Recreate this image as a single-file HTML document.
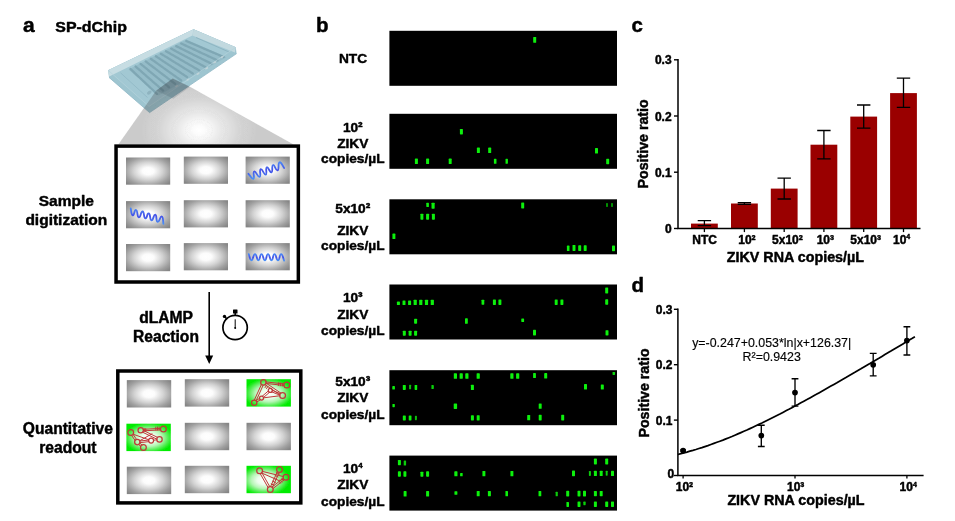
<!DOCTYPE html>
<html><head><meta charset="utf-8"><title>Figure</title>
<style>
html,body{margin:0;padding:0;background:#fff;}
body{width:955px;height:521px;overflow:hidden;font-family:"Liberation Sans",sans-serif;}
svg{display:block;position:absolute;left:0;top:0;filter:blur(0.35px);}
text{font-family:"Liberation Sans",sans-serif;fill:#000;}
.b{font-weight:bold;stroke:#000;stroke-width:0.45px;stroke-linejoin:round;}
.m{text-anchor:middle;}
.e{text-anchor:end;}
</style></head><body>
<svg width="955" height="521" viewBox="0 0 955 521">
<defs>
<radialGradient id="gcell" cx="50%" cy="50%" r="50%" gradientTransform="translate(0.5 0.5) scale(1.3 1.3) translate(-0.5 -0.5)">
<stop offset="0" stop-color="#ffffff"/><stop offset="0.2" stop-color="#fcfcfc"/><stop offset="0.5" stop-color="#d3d3d3"/><stop offset="0.8" stop-color="#a0a0a0"/><stop offset="1" stop-color="#868686"/>
</radialGradient>
<radialGradient id="ggreen" cx="50%" cy="52%" r="50%" gradientTransform="translate(0.5 0.5) scale(1.12 1.12) translate(-0.5 -0.5)">
<stop offset="0" stop-color="#ffffff"/><stop offset="0.3" stop-color="#ecfdec"/><stop offset="0.55" stop-color="#b4f6b4"/><stop offset="0.78" stop-color="#56ee56"/><stop offset="0.97" stop-color="#0aec0a"/><stop offset="1" stop-color="#04ec04"/>
</radialGradient>
<radialGradient id="ggreen2" cx="42%" cy="52%" r="50%" gradientTransform="translate(0.5 0.5) scale(1.12 1.12) translate(-0.5 -0.5)">
<stop offset="0" stop-color="#ffffff"/><stop offset="0.3" stop-color="#ecfdec"/><stop offset="0.55" stop-color="#b4f6b4"/><stop offset="0.78" stop-color="#56ee56"/><stop offset="0.97" stop-color="#0aec0a"/><stop offset="1" stop-color="#04ec04"/>
</radialGradient>
<radialGradient id="gcone" gradientUnits="userSpaceOnUse" cx="199" cy="130" r="44" gradientTransform="translate(199 130) scale(1.3 1) translate(-199 -130)">
<stop offset="0" stop-color="#3a3a3a" stop-opacity="0"/><stop offset="0.1" stop-color="#3a3a3a" stop-opacity="0.012"/><stop offset="0.4" stop-color="#3a3a3a" stop-opacity="0.12"/><stop offset="0.72" stop-color="#3a3a3a" stop-opacity="0.215"/><stop offset="1" stop-color="#3a3a3a" stop-opacity="0.265"/>
</radialGradient>
<linearGradient id="gblue" gradientUnits="objectBoundingBox" x1="0" y1="0" x2="0" y2="1">
<stop offset="0" stop-color="#4a86f6"/><stop offset="0.5" stop-color="#4450e6"/><stop offset="1" stop-color="#4a90f6"/>
</linearGradient>
<filter id="soft" x="-5%" y="-5%" width="110%" height="110%"><feGaussianBlur stdDeviation="0.45"/></filter>
<filter id="soft3" x="-5%" y="-5%" width="110%" height="110%"><feGaussianBlur stdDeviation="0.35"/></filter>
<filter id="soft2" x="-2%" y="-10%" width="104%" height="120%"><feGaussianBlur stdDeviation="0.6"/></filter>
</defs>
<rect x="0" y="0" width="955" height="521" fill="#ffffff"/>

<g id="panel-a">
<text class="b" x="23" y="32" font-size="21">a</text>
<text class="b" x="55.3" y="31.7" font-size="15.3" textLength="71.6" lengthAdjust="spacingAndGlyphs">SP-dChip</text>
<g id="chip" filter="url(#soft)">
<polygon points="108.1,70.2 193.6,29.2 235.8,47.3 236.6,53.6 149.6,112.6 109.0,77.4" fill="#9ec5d0"/>
<polygon points="108.1,70.2 193.6,29.2 235.8,47.3 149.0,106.4" fill="#a2c8d3"/>
<polygon points="108.1,70.2 193.6,29.2 192.4,35.4 109.2,76.4" fill="#c7dde3"/>
<polygon points="193.6,29.2 235.8,47.3 234.9,52.4 192.4,35.4" fill="#c2d9df"/>
<polyline points="120.5,72.8 147.5,97.5" fill="none" stroke="#8ab2bf" stroke-width="0.6"/>
<polyline points="196,37.5 229,52" fill="none" stroke="#7fa8b5" stroke-width="0.6"/>
<polygon points="128.5,69.5 186.5,39.5 226.5,57.2 158.5,95.5" fill="#95bcc8"/>
<line x1="130.5" y1="69.0" x2="157.0" y2="94.0" stroke="#7fa7b4" stroke-width="2.3" stroke-linecap="round" stroke-dasharray="2.4 0.8"/>
<line x1="135.6" y1="66.5" x2="163.1" y2="90.6" stroke="#7fa7b4" stroke-width="2.3" stroke-linecap="round" stroke-dasharray="2.4 0.8"/>
<line x1="140.6" y1="63.9" x2="169.1" y2="87.3" stroke="#7fa7b4" stroke-width="2.3" stroke-linecap="round" stroke-dasharray="2.4 0.8"/>
<line x1="145.7" y1="61.4" x2="175.2" y2="83.9" stroke="#7fa7b4" stroke-width="2.3" stroke-linecap="round" stroke-dasharray="2.4 0.8"/>
<line x1="150.8" y1="58.8" x2="181.2" y2="80.5" stroke="#7fa7b4" stroke-width="2.3" stroke-linecap="round" stroke-dasharray="2.4 0.8"/>
<line x1="155.9" y1="56.3" x2="187.3" y2="77.2" stroke="#7fa7b4" stroke-width="2.3" stroke-linecap="round" stroke-dasharray="2.4 0.8"/>
<line x1="160.9" y1="53.7" x2="193.3" y2="73.8" stroke="#7fa7b4" stroke-width="2.3" stroke-linecap="round" stroke-dasharray="2.4 0.8"/>
<line x1="166.0" y1="51.2" x2="199.4" y2="70.5" stroke="#7fa7b4" stroke-width="2.3" stroke-linecap="round" stroke-dasharray="2.4 0.8"/>
<line x1="171.1" y1="48.6" x2="205.4" y2="67.1" stroke="#7fa7b4" stroke-width="2.3" stroke-linecap="round" stroke-dasharray="2.4 0.8"/>
<line x1="176.2" y1="46.1" x2="211.5" y2="63.7" stroke="#7fa7b4" stroke-width="2.3" stroke-linecap="round" stroke-dasharray="2.4 0.8"/>
<line x1="181.2" y1="43.5" x2="217.5" y2="60.4" stroke="#7fa7b4" stroke-width="2.3" stroke-linecap="round" stroke-dasharray="2.4 0.8"/>
<line x1="186.3" y1="41.0" x2="223.6" y2="57.0" stroke="#7fa7b4" stroke-width="2.3" stroke-linecap="round" stroke-dasharray="2.4 0.8"/>
<ellipse cx="176.7" cy="86.2" rx="1.7" ry="0.9" transform="rotate(-32 176.7 86.2)" fill="#c3d3d7"/>
<ellipse cx="187.9" cy="79.7" rx="1.7" ry="0.9" transform="rotate(-32 187.9 79.7)" fill="#c3d3d7"/>
<ellipse cx="198" cy="73.7" rx="1.7" ry="0.9" transform="rotate(-32 198 73.7)" fill="#c3d3d7"/>
<ellipse cx="206.7" cy="68.3" rx="1.7" ry="0.9" transform="rotate(-32 206.7 68.3)" fill="#c3d3d7"/>
<ellipse cx="214.8" cy="62.3" rx="1.7" ry="0.9" transform="rotate(-32 214.8 62.3)" fill="#c3d3d7"/>
<ellipse cx="222.2" cy="56.9" rx="1.7" ry="0.9" transform="rotate(-32 222.2 56.9)" fill="#c3d3d7"/>
<polyline points="109.0,77.4 149.6,112.6 236.6,53.6" fill="none" stroke="#8fb8c5" stroke-width="0.8"/>
<polyline points="108.1,70.2 149.0,106.4 235.8,47.3" fill="none" stroke="#b4d2db" stroke-width="0.7"/>
<ellipse cx="149.3" cy="92.6" rx="2.6" ry="1.6" transform="rotate(-35 149.3 92.6)" fill="#8eb3bf"/>
</g>
<g filter="url(#soft)">
<polygon points="156.3,90.6 172.7,78.6 189.9,86.8 293.6,144.4 118.3,144.4" fill="url(#gcone)"/>
<polygon points="156.3,90.6 172.7,78.6 189.9,86.8 173.5,98.8" fill="#24404a" fill-opacity="0.16"/>
</g>
<rect x="116.05" y="146.1" width="182.3" height="135.9" fill="#fff" stroke="#000" stroke-width="3.5"/>
<g filter="url(#soft)">
<rect x="126.0" y="157.5" width="44.2" height="27.2" fill="url(#gcell)"/>
<rect x="183.8" y="156.6" width="44.2" height="27.2" fill="url(#gcell)"/>
<rect x="245.6" y="156.6" width="44.2" height="27.2" fill="url(#gcell)"/>
<rect x="126.0" y="201.1" width="44.2" height="27.2" fill="url(#gcell)"/>
<rect x="183.8" y="200.2" width="44.2" height="27.2" fill="url(#gcell)"/>
<rect x="245.6" y="200.2" width="44.2" height="27.2" fill="url(#gcell)"/>
<rect x="126.0" y="244.0" width="44.2" height="27.2" fill="url(#gcell)"/>
<rect x="183.8" y="243.1" width="44.2" height="27.2" fill="url(#gcell)"/>
<rect x="245.6" y="243.1" width="44.2" height="27.2" fill="url(#gcell)"/>
</g>
<g id="rna" filter="url(#soft3)">
<path d="M248.40,173.80 C249.90,175.30 251.66,179.49 253.40,178.80 C255.14,178.11 252.34,172.07 254.20,171.50 C256.06,170.93 257.65,177.59 259.60,176.90 C261.55,176.21 258.87,169.89 260.70,169.20 C262.53,168.51 263.87,175.17 265.70,174.60 C267.53,174.03 265.06,167.99 266.80,167.30 C268.54,166.61 269.64,172.99 271.50,172.30 C273.36,171.61 271.17,165.60 273.00,165.00 C274.83,164.40 275.65,171.11 277.60,170.30 C279.55,169.49 277.55,162.99 279.50,162.30 C281.45,161.61 282.72,166.29 284.10,168.00" fill="none" stroke="url(#gblue)" stroke-width="1.8" stroke-linecap="round" stroke-linejoin="round"/>
<path d="M130.70,208.40 C131.30,210.47 131.08,214.82 132.70,215.30 C134.32,215.78 134.27,209.40 136.10,210.00 C137.93,210.60 136.85,216.85 138.80,217.30 C140.75,217.75 140.65,211.17 142.60,211.50 C144.55,211.83 143.44,217.83 145.30,218.40 C147.16,218.97 146.94,212.83 148.80,213.40 C150.66,213.97 149.55,219.94 151.50,220.30 C153.45,220.66 153.47,214.12 155.30,214.60 C157.13,215.08 155.65,221.33 157.60,221.90 C159.55,222.47 160.06,215.93 161.80,216.50 C163.54,217.07 162.92,221.61 163.40,223.80" fill="none" stroke="url(#gblue)" stroke-width="1.8" stroke-linecap="round" stroke-linejoin="round"/>
<path d="M248.80,254.10 C249.61,255.96 249.64,260.30 251.50,260.30 C253.36,260.30 252.93,254.10 255.00,254.10 C257.07,254.10 256.45,260.30 258.40,260.30 C260.35,260.30 259.55,254.10 261.50,254.10 C263.45,254.10 262.95,260.30 264.90,260.30 C266.85,260.30 266.02,254.10 268.00,254.10 C269.98,254.10 269.55,260.30 271.50,260.30 C273.45,260.30 272.55,254.10 274.50,254.10 C276.45,254.10 276.02,260.30 278.00,260.30 C279.98,260.30 279.27,254.01 281.10,254.10 C282.93,254.19 283.20,258.65 284.10,260.60" fill="none" stroke="url(#gblue)" stroke-width="1.8" stroke-linecap="round" stroke-linejoin="round"/>
</g>
<text class="b m" x="66.3" y="205.6" font-size="15.5">Sample</text>
<text class="b m" x="66.3" y="224.9" font-size="15.5">digitization</text>
<text class="b m" x="166" y="322.8" font-size="15.6">dLAMP</text>
<text class="b m" x="166" y="341.8" font-size="15.6">Reaction</text>
<text class="b m" x="67.9" y="433.8" font-size="15.6">Quantitative</text>
<text class="b m" x="67.9" y="452.9" font-size="15.6">readout</text>
<line x1="209.2" y1="291.9" x2="209.2" y2="357" stroke="#000" stroke-width="1.6"/>
<polygon points="205.2,355.6 213.2,355.6 209.2,364" fill="#000"/>
<g id="timer" fill="none" stroke="#000">
<circle cx="235.1" cy="327.5" r="12.2" stroke-width="1.7"/>
<line x1="235.2" y1="311.5" x2="235.2" y2="316" stroke-width="1.5"/>
<rect x="233.0" y="309.6" width="4.5" height="3.9" rx="0.5" fill="#000" stroke="none"/>
<line x1="224.6" y1="316.6" x2="227.2" y2="319.2" stroke-width="1.6"/>
<circle cx="224.5" cy="316.4" r="1.7" fill="#000" stroke="none"/>
<line x1="235.2" y1="328" x2="235.2" y2="319.3" stroke-width="1.0"/>
<circle cx="235.2" cy="328" r="1.0" fill="#000" stroke="none"/>
</g>
<rect x="117.8" y="371.0" width="183.0" height="131.9" fill="#fff" stroke="#000" stroke-width="3.5"/>
<g filter="url(#soft)">
<rect x="126.8" y="380.1" width="44.4" height="27.4" fill="url(#gcell)"/>
<rect x="184.8" y="379.2" width="44.4" height="27.4" fill="url(#gcell)"/>
<rect x="246.5" y="379.2" width="44.4" height="27.4" fill="url(#ggreen)"/>
<rect x="126.4" y="423.7" width="44.4" height="27.4" fill="url(#ggreen)"/>
<rect x="184.8" y="422.8" width="44.4" height="27.4" fill="url(#gcell)"/>
<rect x="246.5" y="422.8" width="44.4" height="27.4" fill="url(#gcell)"/>
<rect x="126.8" y="466.7" width="44.4" height="27.4" fill="url(#gcell)"/>
<rect x="184.8" y="465.8" width="44.4" height="27.4" fill="url(#gcell)"/>
<rect x="246.5" y="465.8" width="44.4" height="27.4" fill="url(#ggreen2)"/>
</g>
<g fill="none" stroke="#c0383a" stroke-width="1.0" stroke-linecap="round" filter="url(#soft3)">
<line x1="265.87" y1="383.43" x2="283.98" y2="385.44"/>
<line x1="266.03" y1="381.94" x2="284.14" y2="383.95"/>
<line x1="261.48" y1="384.34" x2="254.39" y2="399.97"/>
<line x1="263.21" y1="385.13" x2="256.12" y2="400.76"/>
<line x1="264.99" y1="384.62" x2="279.79" y2="394.64"/>
<line x1="266.06" y1="383.05" x2="280.85" y2="393.07"/>
<line x1="256.80" y1="402.01" x2="260.32" y2="399.79"/>
<line x1="255.94" y1="400.66" x2="259.47" y2="398.44"/>
<line x1="263.52" y1="397.53" x2="269.46" y2="392.33"/>
<line x1="262.34" y1="396.17" x2="268.28" y2="390.97"/>
<line x1="263.38" y1="397.86" x2="279.87" y2="395.75"/>
<line x1="271.76" y1="391.86" x2="279.75" y2="395.10"/>
<line x1="272.36" y1="390.37" x2="280.35" y2="393.62"/>
<line x1="278.33" y1="385.61" x2="278.67" y2="382.63"/>
<line x1="280.33" y1="385.84" x2="280.67" y2="382.86"/>
<line x1="282.33" y1="386.07" x2="282.67" y2="383.09"/>
<line x1="265.03" y1="387.58" x2="266.47" y2="385.42"/>
<line x1="266.53" y1="388.58" x2="267.97" y2="386.42"/>
<circle cx="263.4" cy="382.4" r="2.7" stroke-width="1.25"/>
<circle cx="286.8" cy="385" r="2.9" stroke-width="1.25"/>
<circle cx="282.6" cy="395.4" r="2.9" stroke-width="1.25"/>
<circle cx="254.2" cy="402.7" r="2.7" stroke-width="1.25"/>
<circle cx="261.5" cy="398.1" r="2.0" stroke-width="1.25"/>
<circle cx="270.3" cy="390.4" r="2.0" stroke-width="1.25"/>
</g>
<g fill="none" stroke="#c0383a" stroke-width="1.0" stroke-linecap="round" filter="url(#soft3)">
<line x1="143.30" y1="430.81" x2="160.69" y2="429.89"/>
<line x1="143.22" y1="429.32" x2="160.61" y2="428.40"/>
<line x1="131.52" y1="435.28" x2="135.11" y2="440.50"/>
<line x1="133.00" y1="434.26" x2="136.59" y2="439.48"/>
<line x1="138.62" y1="444.47" x2="140.74" y2="446.35"/>
<line x1="139.82" y1="443.13" x2="141.93" y2="445.00"/>
<line x1="142.59" y1="432.18" x2="156.78" y2="439.13"/>
<line x1="143.42" y1="430.47" x2="157.61" y2="437.42"/>
<line x1="139.94" y1="442.62" x2="148.83" y2="441.65"/>
<line x1="139.76" y1="441.03" x2="148.65" y2="440.06"/>
<line x1="153.45" y1="440.26" x2="156.96" y2="439.76"/>
<line x1="134.00" y1="434.50" x2="148.86" y2="439.80"/>
<line x1="139.53" y1="440.84" x2="152.00" y2="433.80"/>
<line x1="155.89" y1="430.07" x2="155.77" y2="427.07"/>
<line x1="157.56" y1="430.00" x2="157.44" y2="427.00"/>
<line x1="159.23" y1="429.93" x2="159.11" y2="426.93"/>
<line x1="144.25" y1="431.40" x2="144.25" y2="428.60"/>
<line x1="145.75" y1="431.40" x2="145.75" y2="428.60"/>
<circle cx="130.7" cy="432.5" r="2.9" stroke-width="1.25"/>
<circle cx="140.7" cy="430.2" r="2.7" stroke-width="1.25"/>
<circle cx="163.4" cy="429" r="2.9" stroke-width="1.25"/>
<circle cx="159.5" cy="439.4" r="2.7" stroke-width="1.25"/>
<circle cx="151.1" cy="440.6" r="2.5" stroke-width="1.25"/>
<circle cx="137.3" cy="442.1" r="2.7" stroke-width="1.25"/>
<circle cx="143.4" cy="447.5" r="2.9" stroke-width="1.25"/>
</g>
<g fill="none" stroke="#c0383a" stroke-width="1.0" stroke-linecap="round" filter="url(#soft3)">
<line x1="260.14" y1="473.56" x2="268.11" y2="487.58"/>
<line x1="261.79" y1="472.62" x2="269.76" y2="486.64"/>
<line x1="277.44" y1="471.58" x2="270.54" y2="486.58"/>
<line x1="279.26" y1="472.42" x2="272.36" y2="487.42"/>
<line x1="262.28" y1="471.36" x2="283.32" y2="476.54"/>
<line x1="261.68" y1="473.01" x2="280.00" y2="481.00"/>
<line x1="283.28" y1="478.19" x2="271.91" y2="487.09"/>
<line x1="284.39" y1="479.61" x2="273.02" y2="488.51"/>
<line x1="276.40" y1="472.73" x2="279.30" y2="474.07"/>
<line x1="275.10" y1="475.53" x2="278.00" y2="476.87"/>
<line x1="273.80" y1="478.33" x2="276.70" y2="479.67"/>
<line x1="272.50" y1="481.13" x2="275.40" y2="482.47"/>
<line x1="271.20" y1="483.93" x2="274.10" y2="485.27"/>
<line x1="281.88" y1="478.71" x2="283.62" y2="480.89"/>
<line x1="280.38" y1="479.91" x2="282.12" y2="482.09"/>
<line x1="278.88" y1="481.11" x2="280.62" y2="483.29"/>
<circle cx="259.6" cy="470.7" r="2.9" stroke-width="1.25"/>
<circle cx="279.5" cy="469.5" r="2.9" stroke-width="1.25"/>
<circle cx="286" cy="477.2" r="2.9" stroke-width="1.25"/>
<circle cx="270.3" cy="489.5" r="2.9" stroke-width="1.25"/>
</g>
</g>
<g id="panel-b">
<text class="b" x="316" y="32" font-size="20.5">b</text>
<rect x="389.4" y="30.8" width="227.6" height="55" fill="#000"/>
<rect x="389.4" y="113.8" width="227.6" height="55" fill="#000"/>
<rect x="389.4" y="199.3" width="227.6" height="55" fill="#000"/>
<rect x="389.4" y="284.5" width="227.6" height="55" fill="#000"/>
<rect x="389.4" y="370.2" width="227.6" height="55" fill="#000"/>
<rect x="389.4" y="455.6" width="227.6" height="55" fill="#000"/>
<text class="b m" x="353" y="63.3" font-size="13.7">NTC</text>
<text class="b m" x="352.8" y="132" font-size="13.7">10²</text>
<text class="b m" x="352.8" y="148" font-size="13.7">ZIKV</text>
<text class="b m" x="352.8" y="163.4" font-size="13.7">copies/µL</text>
<text class="b m" x="352.8" y="213" font-size="13.7">5x10²</text>
<text class="b m" x="352.8" y="235" font-size="13.7">ZIKV</text>
<text class="b m" x="352.8" y="250" font-size="13.7">copies/µL</text>
<text class="b m" x="352.8" y="302" font-size="13.7">10³</text>
<text class="b m" x="352.8" y="319" font-size="13.7">ZIKV</text>
<text class="b m" x="352.8" y="335" font-size="13.7">copies/µL</text>
<text class="b m" x="352.8" y="385.5" font-size="13.7">5x10³</text>
<text class="b m" x="352.8" y="402.2" font-size="13.7">ZIKV</text>
<text class="b m" x="352.8" y="418.6" font-size="13.7">copies/µL</text>
<text class="b m" x="352.8" y="472.8" font-size="13.7">10<tspan font-size="7.9" dy="-4.9">4</tspan></text>
<text class="b m" x="352.8" y="489.2" font-size="13.7">ZIKV</text>
<text class="b m" x="352.8" y="506" font-size="13.7">copies/µL</text>
<g fill="#0af00a" filter="url(#soft2)">
<rect x="533.20" y="37.00" width="3" height="5.8" rx="0.6"/>
<rect x="459.90" y="129.00" width="3.0" height="5.4" rx="0.6"/>
<rect x="476.90" y="147.60" width="3.0" height="5.4" rx="0.6"/>
<rect x="488.20" y="147.60" width="3.0" height="5.4" rx="0.6"/>
<rect x="595.00" y="148.10" width="3.0" height="5.4" rx="0.6"/>
<rect x="414.90" y="158.60" width="3.0" height="5.4" rx="0.6"/>
<rect x="426.10" y="158.60" width="3.0" height="5.4" rx="0.6"/>
<rect x="448.70" y="158.60" width="3.0" height="5.4" rx="0.6"/>
<rect x="493.90" y="158.80" width="2.6" height="5" rx="0.6"/>
<rect x="505.50" y="158.80" width="2.4" height="5" rx="0.6"/>
<rect x="606.20" y="158.80" width="3.0" height="5.4" rx="0.6"/>
<rect x="426.30" y="202.70" width="2.6" height="4.4" rx="0.6"/>
<rect x="431.50" y="202.70" width="3.2" height="6" rx="0.6"/>
<rect x="521.20" y="202.40" width="3" height="6" rx="0.6"/>
<rect x="606.00" y="202.90" width="2" height="4" rx="0.6" fill-opacity="0.6"/>
<rect x="611.00" y="202.90" width="2" height="4" rx="0.6" fill-opacity="0.6"/>
<rect x="420.40" y="213.70" width="3" height="6" rx="0.6"/>
<rect x="426.10" y="213.70" width="3" height="6" rx="0.6"/>
<rect x="431.90" y="213.70" width="3" height="6" rx="0.6"/>
<rect x="392.40" y="233.55" width="3" height="5.5" rx="0.6"/>
<rect x="566.90" y="245.60" width="2.6" height="5.4" rx="0.6"/>
<rect x="572.50" y="244.90" width="3" height="6" rx="0.6"/>
<rect x="578.20" y="245.30" width="3" height="5.6" rx="0.6"/>
<rect x="583.70" y="245.30" width="3" height="5.6" rx="0.6"/>
<rect x="612.00" y="245.60" width="3" height="5.6" rx="0.6"/>
<rect x="605.20" y="287.40" width="3" height="6" rx="0.6"/>
<rect x="396.90" y="301.60" width="3" height="3.4" rx="0.6"/>
<rect x="402.50" y="300.50" width="3" height="4.6" rx="0.6"/>
<rect x="408.10" y="300.50" width="3" height="4.6" rx="0.6"/>
<rect x="413.60" y="299.70" width="3.2" height="5.4" rx="0.6"/>
<rect x="419.20" y="299.70" width="3.2" height="5.4" rx="0.6"/>
<rect x="424.90" y="299.70" width="3.2" height="5.4" rx="0.6"/>
<rect x="430.70" y="299.70" width="3.2" height="5.4" rx="0.6"/>
<rect x="481.50" y="299.70" width="2.8" height="5" rx="0.6"/>
<rect x="492.90" y="299.50" width="3" height="5.4" rx="0.6"/>
<rect x="498.40" y="299.50" width="3" height="5.4" rx="0.6"/>
<rect x="554.70" y="299.50" width="3" height="5.4" rx="0.6"/>
<rect x="560.40" y="299.50" width="3" height="5.4" rx="0.6"/>
<rect x="605.20" y="299.30" width="3" height="5.4" rx="0.6"/>
<rect x="414.10" y="318.70" width="3" height="5" rx="0.6"/>
<rect x="465.00" y="318.20" width="2.8" height="5.6" rx="0.6"/>
<rect x="521.30" y="318.50" width="2.8" height="3.6" rx="0.6"/>
<rect x="402.80" y="330.70" width="3" height="5" rx="0.6"/>
<rect x="408.60" y="330.70" width="3" height="5" rx="0.6"/>
<rect x="414.10" y="330.70" width="3" height="5" rx="0.6"/>
<rect x="533.00" y="329.80" width="3" height="5.6" rx="0.6"/>
<rect x="605.50" y="330.20" width="3" height="5.2" rx="0.6"/>
<rect x="453.80" y="373.20" width="3.2" height="5.6" rx="0.6"/>
<rect x="459.60" y="373.20" width="3.2" height="5.6" rx="0.6"/>
<rect x="465.30" y="373.20" width="3.2" height="5.6" rx="0.6"/>
<rect x="476.60" y="373.20" width="3.2" height="5.6" rx="0.6"/>
<rect x="510.30" y="373.20" width="3.2" height="5.6" rx="0.6"/>
<rect x="516.10" y="373.20" width="3.2" height="5.6" rx="0.6"/>
<rect x="533.10" y="373.10" width="2.8" height="5" rx="0.6"/>
<rect x="544.20" y="373.10" width="3" height="5.4" rx="0.6"/>
<rect x="612.50" y="371.90" width="2.6" height="3" rx="0.6" fill-opacity="0.9"/>
<rect x="392.30" y="386.10" width="2.6" height="3.4" rx="0.6"/>
<rect x="402.80" y="384.90" width="3" height="5" rx="0.6"/>
<rect x="409.10" y="384.70" width="2" height="4.6" rx="0.6" fill-opacity="0.8"/>
<rect x="414.60" y="384.90" width="2.6" height="5" rx="0.6"/>
<rect x="431.40" y="385.00" width="2.4" height="4" rx="0.6" fill-opacity="0.85"/>
<rect x="470.90" y="384.70" width="3" height="5.4" rx="0.6"/>
<rect x="584.00" y="384.00" width="3" height="5.6" rx="0.6"/>
<rect x="600.80" y="384.40" width="3" height="5.2" rx="0.6"/>
<rect x="392.40" y="404.00" width="2.4" height="3.2" rx="0.6"/>
<rect x="453.70" y="403.50" width="3.4" height="5.4" rx="0.6"/>
<rect x="538.70" y="403.40" width="3" height="5.4" rx="0.6"/>
<rect x="402.80" y="415.40" width="3" height="5" rx="0.6"/>
<rect x="408.70" y="415.40" width="2.8" height="5" rx="0.6"/>
<rect x="414.90" y="415.80" width="2" height="4.4" rx="0.6" fill-opacity="0.8"/>
<rect x="470.90" y="415.20" width="3" height="5.2" rx="0.6"/>
<rect x="476.70" y="415.20" width="3" height="5.2" rx="0.6"/>
<rect x="527.20" y="414.90" width="3" height="5.4" rx="0.6"/>
<rect x="538.70" y="414.80" width="3" height="5.6" rx="0.6"/>
<rect x="561.20" y="414.80" width="3" height="5.6" rx="0.6"/>
<rect x="397.90" y="460.00" width="3" height="5.2" rx="0.6"/>
<rect x="403.70" y="460.50" width="2.4" height="5" rx="0.6" fill-opacity="0.85"/>
<rect x="593.90" y="458.60" width="3" height="5.8" rx="0.6"/>
<rect x="605.20" y="458.60" width="3" height="5.8" rx="0.6"/>
<rect x="397.90" y="471.30" width="3" height="5.4" rx="0.6"/>
<rect x="403.40" y="471.30" width="3" height="5.4" rx="0.6"/>
<rect x="420.40" y="471.70" width="3" height="5" rx="0.6"/>
<rect x="426.10" y="471.30" width="3" height="5.4" rx="0.6"/>
<rect x="454.30" y="471.30" width="3.2" height="5" rx="0.6"/>
<rect x="460.10" y="472.90" width="2.6" height="3.4" rx="0.6"/>
<rect x="482.40" y="470.90" width="3" height="5.4" rx="0.6"/>
<rect x="510.40" y="470.90" width="3" height="5.4" rx="0.6"/>
<rect x="572.00" y="470.60" width="3" height="5.6" rx="0.6"/>
<rect x="588.90" y="470.90" width="2" height="5" rx="0.6" fill-opacity="0.85"/>
<rect x="593.90" y="470.70" width="3" height="5.4" rx="0.6"/>
<rect x="599.70" y="470.70" width="3" height="5.4" rx="0.6"/>
<rect x="605.70" y="470.70" width="2" height="5" rx="0.6" fill-opacity="0.85"/>
<rect x="611.00" y="470.70" width="3" height="5.4" rx="0.6"/>
<rect x="403.60" y="491.10" width="3" height="5.4" rx="0.6"/>
<rect x="426.10" y="491.10" width="3" height="5.4" rx="0.6"/>
<rect x="454.40" y="491.20" width="3" height="3.6" rx="0.6"/>
<rect x="476.70" y="490.90" width="3" height="5.4" rx="0.6"/>
<rect x="487.90" y="490.90" width="3" height="5.4" rx="0.6"/>
<rect x="505.40" y="490.90" width="2.6" height="5.4" rx="0.6"/>
<rect x="538.50" y="490.90" width="2.8" height="5.4" rx="0.6"/>
<rect x="555.60" y="491.70" width="2.2" height="4.6" rx="0.6" fill-opacity="0.85"/>
<rect x="566.20" y="490.80" width="3" height="5.6" rx="0.6"/>
<rect x="577.50" y="490.80" width="3" height="5.6" rx="0.6"/>
<rect x="583.00" y="490.80" width="3" height="5.6" rx="0.6"/>
<rect x="593.90" y="491.00" width="3" height="5.2" rx="0.6"/>
<rect x="599.70" y="491.00" width="3" height="5.2" rx="0.6"/>
<rect x="566.40" y="501.90" width="2.6" height="5" rx="0.6"/>
<rect x="577.50" y="501.50" width="3" height="5.4" rx="0.6"/>
<rect x="583.30" y="501.60" width="2.4" height="3.6" rx="0.6" fill-opacity="0.85"/>
<rect x="593.90" y="501.50" width="3" height="5.4" rx="0.6"/>
<rect x="605.20" y="501.50" width="3" height="5.4" rx="0.6"/>
<rect x="611.00" y="501.50" width="3" height="5.4" rx="0.6"/>
</g>
</g>
<g id="panel-c">
<text class="b" x="631.6" y="32.2" font-size="20.5">c</text>
<rect x="691.0" y="223.6" width="26.8" height="4.9" fill="#9a0000"/>
<rect x="731.0" y="203.5" width="26.8" height="25.0" fill="#9a0000"/>
<rect x="770.8" y="188.6" width="26.8" height="39.9" fill="#9a0000"/>
<rect x="810.5" y="144.7" width="26.8" height="83.8" fill="#9a0000"/>
<rect x="850.3" y="116.6" width="26.8" height="111.9" fill="#9a0000"/>
<rect x="890.1" y="93.1" width="26.8" height="135.4" fill="#9a0000"/>
<path d="M704.4,220.6V225.6M697.7,220.6H711.1M697.7,225.6H711.1" stroke="#000" stroke-width="1.3" fill="none"/>
<path d="M744.4,202.6V204.4M737.7,202.6H751.1M737.7,204.4H751.1" stroke="#000" stroke-width="1.3" fill="none"/>
<path d="M784.2,178.2V199.0M777.5,178.2H790.9M777.5,199.0H790.9" stroke="#000" stroke-width="1.3" fill="none"/>
<path d="M823.9,130.5V158.9M817.2,130.5H830.6M817.2,158.9H830.6" stroke="#000" stroke-width="1.3" fill="none"/>
<path d="M863.7,105.0V128.1M857.0,105.0H870.4M857.0,128.1H870.4" stroke="#000" stroke-width="1.3" fill="none"/>
<path d="M903.5,78.2V107.4M896.8,78.2H910.2M896.8,107.4H910.2" stroke="#000" stroke-width="1.3" fill="none"/>
<path d="M678.0,59.0V228.5H920.5" stroke="#000" stroke-width="1.5" fill="none" stroke-linejoin="miter"/>
<line x1="674.0" y1="228.5" x2="678.0" y2="228.5" stroke="#000" stroke-width="1.4"/>
<text class="b e" x="671.6" y="233.1" font-size="12">0</text>
<line x1="674.0" y1="172.2" x2="678.0" y2="172.2" stroke="#000" stroke-width="1.4"/>
<text class="b e" x="671.6" y="176.8" font-size="12">0.1</text>
<line x1="674.0" y1="116.0" x2="678.0" y2="116.0" stroke="#000" stroke-width="1.4"/>
<text class="b e" x="671.6" y="120.6" font-size="12">0.2</text>
<line x1="674.0" y1="59.8" x2="678.0" y2="59.8" stroke="#000" stroke-width="1.4"/>
<text class="b e" x="671.6" y="64.3" font-size="12">0.3</text>
<line x1="704.4" y1="228.5" x2="704.4" y2="232.1" stroke="#000" stroke-width="1.3"/>
<text class="b m" x="704.7" y="243.6" font-size="12">NTC</text>
<line x1="744.4" y1="228.5" x2="744.4" y2="232.1" stroke="#000" stroke-width="1.3"/>
<text class="b m" x="746.9" y="243.6" font-size="12">10²</text>
<line x1="784.2" y1="228.5" x2="784.2" y2="232.1" stroke="#000" stroke-width="1.3"/>
<text class="b m" x="787.4" y="243.6" font-size="12">5x10²</text>
<line x1="823.9" y1="228.5" x2="823.9" y2="232.1" stroke="#000" stroke-width="1.3"/>
<text class="b m" x="825.3" y="243.6" font-size="12">10³</text>
<line x1="863.7" y1="228.5" x2="863.7" y2="232.1" stroke="#000" stroke-width="1.3"/>
<text class="b m" x="865.7" y="243.6" font-size="12">5x10³</text>
<line x1="903.5" y1="228.5" x2="903.5" y2="232.1" stroke="#000" stroke-width="1.3"/>
<text class="b m" x="901.6" y="243.6" font-size="12">10<tspan font-size="7.0" dy="-4.3">4</tspan></text>
<text class="b m" x="795.4" y="261.5" font-size="14.3">ZIKV RNA copies/µL</text>
<text class="b m" transform="translate(648.3,143.9) rotate(-90)" font-size="14.2">Positive ratio</text>
</g>
<g id="panel-d">
<text class="b" x="631.6" y="292.1" font-size="20.5">d</text>
<path d="M677.9,308.6V475.5H923.6" stroke="#000" stroke-width="1.5" fill="none"/>
<line x1="673.9" y1="475.5" x2="677.9" y2="475.5" stroke="#000" stroke-width="1.4"/>
<text class="b e" x="674.2" y="478.4" font-size="12">0</text>
<line x1="673.9" y1="420.1" x2="677.9" y2="420.1" stroke="#000" stroke-width="1.4"/>
<text class="b e" x="672.4" y="424.5" font-size="12">0.1</text>
<line x1="673.9" y1="364.7" x2="677.9" y2="364.7" stroke="#000" stroke-width="1.4"/>
<text class="b e" x="672.4" y="369.1" font-size="12">0.2</text>
<line x1="673.9" y1="309.3" x2="677.9" y2="309.3" stroke="#000" stroke-width="1.4"/>
<text class="b e" x="672.4" y="313.7" font-size="12">0.3</text>
<line x1="683.1" y1="475.5" x2="683.1" y2="478.5" stroke="#000" stroke-width="1.3"/>
<text class="b m" x="684.4" y="491.3" font-size="12">10²</text>
<line x1="795.0" y1="475.5" x2="795.0" y2="478.5" stroke="#000" stroke-width="1.3"/>
<text class="b m" x="795.7" y="491.3" font-size="12">10³</text>
<line x1="906.9" y1="475.5" x2="906.9" y2="478.5" stroke="#000" stroke-width="1.3"/>
<text class="b m" x="908.2" y="491.3" font-size="12">10<tspan font-size="7.0" dy="-4.3">4</tspan></text>
<path d="M677.9,454.5 L680.9,453.7 L683.9,452.9 L686.9,452.1 L689.9,451.2 L692.9,450.4 L695.9,449.5 L698.9,448.5 L701.9,447.6 L704.9,446.6 L707.9,445.6 L710.9,444.5 L713.9,443.4 L716.9,442.3 L719.9,441.2 L722.9,440.1 L725.9,438.9 L728.9,437.7 L731.9,436.5 L734.9,435.2 L737.9,433.9 L740.9,432.6 L743.9,431.3 L746.9,430.0 L749.9,428.6 L752.9,427.2 L755.9,425.8 L758.9,424.4 L761.9,423.0 L764.9,421.5 L767.9,420.0 L770.9,418.5 L773.9,417.0 L776.9,415.5 L779.9,414.0 L782.9,412.4 L785.9,410.8 L788.9,409.3 L791.9,407.7 L794.9,406.1 L797.9,404.5 L800.9,402.8 L803.9,401.2 L806.9,399.6 L809.9,397.9 L812.9,396.2 L815.9,394.6 L818.9,392.9 L821.9,391.2 L824.9,389.5 L827.9,387.8 L830.9,386.1 L833.9,384.4 L836.9,382.7 L839.9,380.9 L842.9,379.2 L845.9,377.5 L848.9,375.7 L851.9,374.0 L854.9,372.3 L857.9,370.5 L860.9,368.8 L863.9,367.0 L866.9,365.2 L869.9,363.5 L872.9,361.7 L875.9,359.9 L878.9,358.2 L881.9,356.4 L884.9,354.6 L887.9,352.8 L890.9,351.1 L893.9,349.3 L896.9,347.5 L899.9,345.7 L902.9,343.9 L905.9,342.1 L908.9,340.3 L911.9,338.6 L914.9,336.8" fill="none" stroke="#000" stroke-width="1.75"/>
<path d="M683.1,449.7V451.4M680.5,449.7H685.7M680.5,451.4H685.7" stroke="#000" stroke-width="1.35" fill="none"/>
<circle cx="683.1" cy="450.6" r="2.85" fill="#000"/>
<path d="M761.3,425.2V446.5M757.9,425.2H764.7M757.9,446.5H764.7" stroke="#000" stroke-width="1.35" fill="none"/>
<circle cx="761.3" cy="435.6" r="2.85" fill="#000"/>
<path d="M795.0,378.7V406.1M791.6,378.7H798.4M791.6,406.1H798.4" stroke="#000" stroke-width="1.35" fill="none"/>
<circle cx="795.0" cy="392.6" r="2.85" fill="#000"/>
<path d="M873.2,353.4V375.9M869.8,353.4H876.6M869.8,375.9H876.6" stroke="#000" stroke-width="1.35" fill="none"/>
<circle cx="873.2" cy="364.8" r="2.85" fill="#000"/>
<path d="M906.9,326.7V355.0M903.5,326.7H910.3M903.5,355.0H910.3" stroke="#000" stroke-width="1.35" fill="none"/>
<circle cx="906.9" cy="340.6" r="2.85" fill="#000"/>
<text class="m" x="771.7" y="346.6" font-size="12.4" fill="#111" stroke="#111" stroke-width="0.15">y=-0.247+0.053*ln|x+126.37|</text>
<text class="m" x="771.7" y="360.5" font-size="12.4" fill="#111" stroke="#111" stroke-width="0.15">R²=0.9423</text>
<text class="b m" x="796" y="505.4" font-size="14.3">ZIKV RNA copies/µL</text>
<text class="b m" transform="translate(648.8,393) rotate(-90)" font-size="14.2">Positive ratio</text>
</g>
</svg>
</body></html>
